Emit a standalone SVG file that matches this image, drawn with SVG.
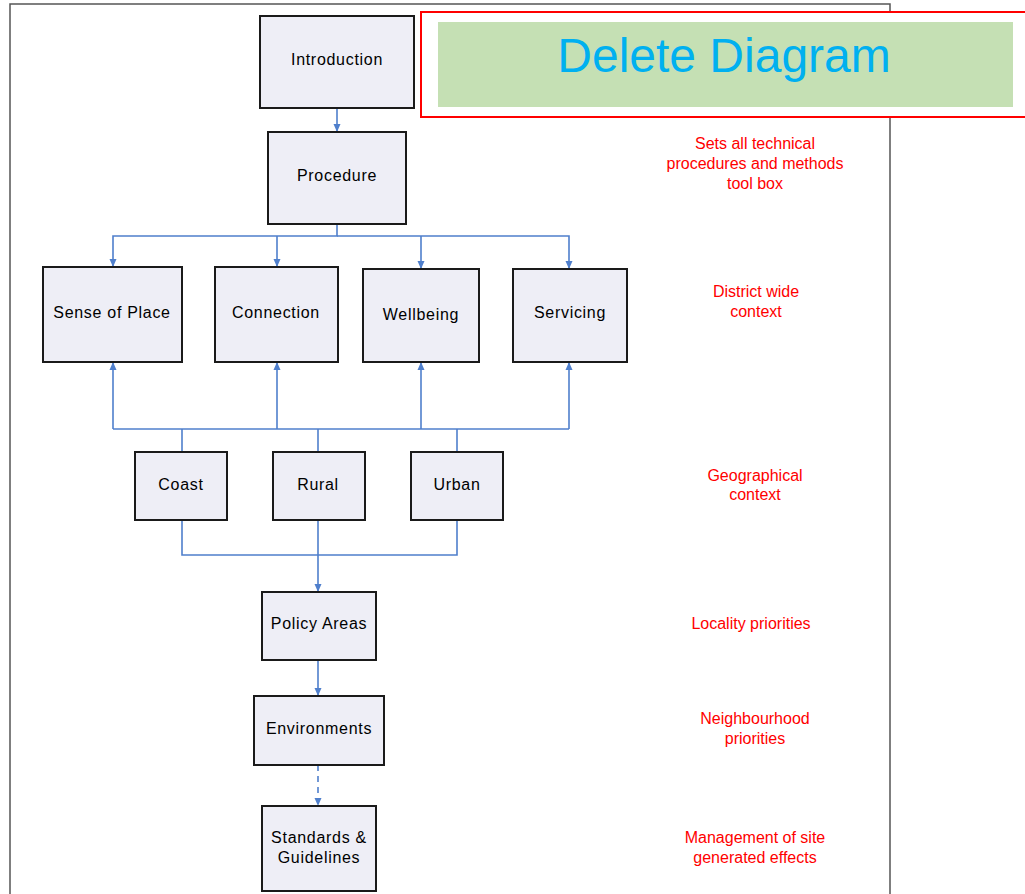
<svg xmlns="http://www.w3.org/2000/svg" width="1025" height="894" viewBox="0 0 1025 894">
<style>
.box{fill:#EEEEF6;stroke:#1a1a1a;stroke-width:2}
.lbl{font-family:"Liberation Sans",Arial,sans-serif;font-size:16px;fill:#000;text-anchor:middle;letter-spacing:0.7px}
.note{font-family:"Liberation Sans",Arial,sans-serif;font-size:16px;fill:#FF0000;text-anchor:middle}
.con{fill:none;stroke:#4F7FCC;stroke-width:1.6}
</style>
<defs>
<marker id="arr" viewBox="0 0 8 8" refX="8" refY="4" markerWidth="8" markerHeight="8" markerUnits="userSpaceOnUse" orient="auto">
<path d="M0,0.5 L8,4 L0,7.5 Z" fill="#4F7FCC"/>
</marker>
</defs>
<rect width="1025" height="894" fill="#fff"/>
<rect x="10" y="4" width="880" height="900" fill="none" stroke="#555" stroke-width="1.5"/>
<g id="delete-banner">
<rect x="421" y="12" width="620" height="105" fill="#fff" stroke="#FF0000" stroke-width="2"/>
<rect x="438" y="22" width="575" height="85" fill="#C5E0B4"/>
<text x="724" y="72" font-family="'Liberation Sans',Arial,sans-serif" font-size="48" fill="#00B0F0" text-anchor="middle">Delete Diagram</text>
</g>
<g id="connectors">
<path class="con" d="M337,108 V132" marker-end="url(#arr)"/>
<path class="con" d="M337,224 V236 H113 V267" marker-end="url(#arr)"/>
<path class="con" d="M277,236 V267" marker-end="url(#arr)"/>
<path class="con" d="M337,236 H569 V269" marker-end="url(#arr)"/>
<path class="con" d="M421,236 V269" marker-end="url(#arr)"/>
<path class="con" d="M113,429 V362" marker-end="url(#arr)"/>
<path class="con" d="M277,429 V362" marker-end="url(#arr)"/>
<path class="con" d="M421,429 V362" marker-end="url(#arr)"/>
<path class="con" d="M569,429 V362" marker-end="url(#arr)"/>
<path class="con" d="M113,429 H569"/>
<path class="con" d="M182,452 V429"/>
<path class="con" d="M318,452 V429"/>
<path class="con" d="M457,452 V429"/>
<path class="con" d="M182,520 V555 H457 V520"/>
<path class="con" d="M318,520 V592" marker-end="url(#arr)"/>
<path class="con" d="M318,660 V696" marker-end="url(#arr)"/>
<path class="con" d="M318,765 V806" stroke-dasharray="6,5" marker-end="url(#arr)"/>
</g>
<g id="introduction"><rect class="box" x="260" y="16" width="154" height="92"/><text class="lbl" x="337" y="65">Introduction</text></g>
<g id="procedure"><rect class="box" x="268" y="132" width="138" height="92"/><text class="lbl" x="337" y="181">Procedure</text></g>
<g id="sense-of-place"><rect class="box" x="43" y="267" width="139" height="95"/><text class="lbl" x="112" y="318">Sense of Place</text></g>
<g id="connection"><rect class="box" x="215" y="267" width="123" height="95"/><text class="lbl" x="276" y="318">Connection</text></g>
<g id="wellbeing"><rect class="box" x="363" y="269" width="116" height="93"/><text class="lbl" x="421" y="320">Wellbeing</text></g>
<g id="servicing"><rect class="box" x="513" y="269" width="114" height="93"/><text class="lbl" x="570" y="318">Servicing</text></g>
<g id="coast"><rect class="box" x="135" y="452" width="92" height="68"/><text class="lbl" x="181" y="490">Coast</text></g>
<g id="rural"><rect class="box" x="273" y="452" width="92" height="68"/><text class="lbl" x="318" y="490">Rural</text></g>
<g id="urban"><rect class="box" x="411" y="452" width="92" height="68"/><text class="lbl" x="457" y="490">Urban</text></g>
<g id="policy-areas"><rect class="box" x="262" y="592" width="114" height="68"/><text class="lbl" x="319" y="629">Policy Areas</text></g>
<g id="environments"><rect class="box" x="254" y="696" width="130" height="69"/><text class="lbl" x="319" y="734">Environments</text></g>
<g id="standards"><rect class="box" x="262" y="806" width="114" height="85"/><text class="lbl" x="319" y="843">Standards &amp;</text><text class="lbl" x="319" y="863">Guidelines</text></g>
<g id="notes">
<text class="note" x="755" y="149">Sets all technical</text>
<text class="note" x="755" y="169">procedures and methods</text>
<text class="note" x="755" y="189">tool box</text>
<text class="note" x="756" y="297">District wide</text>
<text class="note" x="756" y="317">context</text>
<text class="note" x="755" y="481">Geographical</text>
<text class="note" x="755" y="500">context</text>
<text class="note" x="751" y="629">Locality priorities</text>
<text class="note" x="755" y="724">Neighbourhood</text>
<text class="note" x="755" y="744">priorities</text>
<text class="note" x="755" y="843">Management of site</text>
<text class="note" x="755" y="863">generated effects</text>
</g>
</svg>
